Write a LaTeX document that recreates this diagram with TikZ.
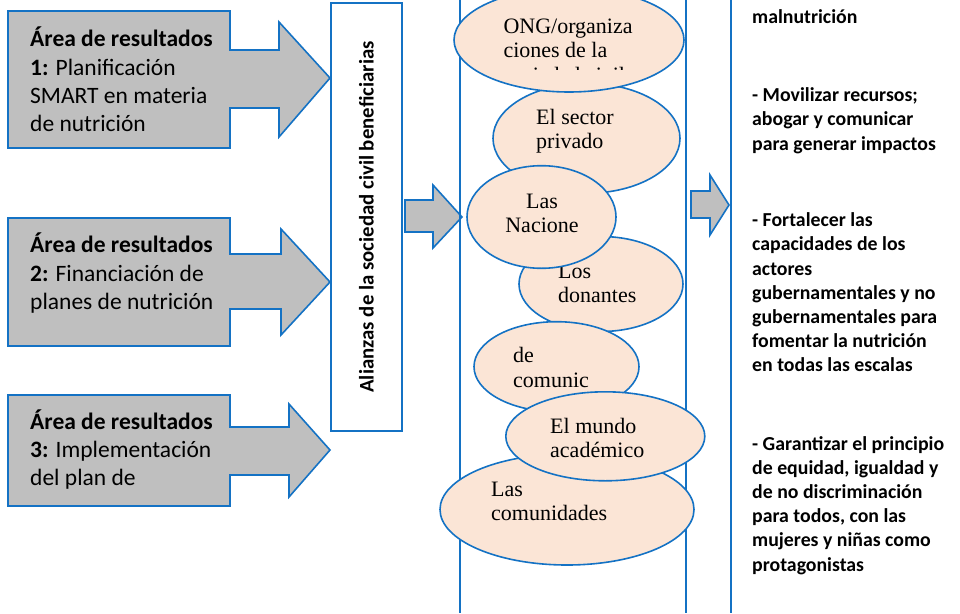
\documentclass[tikz,border=0pt]{standalone}
\usepackage{fontspec}
\setmainfont{Carlito}
\newfontfamily\bubblefont{Liberation Serif}
\usetikzlibrary{shapes.geometric}

\definecolor{edgeblue}{HTML}{1472C4}
\definecolor{arrowgray}{HTML}{BFBFBF}
\definecolor{peach}{HTML}{FBE5D6}

\tikzset{
  blockarrow/.style={draw=edgeblue, line width=1.6pt, fill=arrowgray, line join=miter},
  frameline/.style={draw=edgeblue, line width=1.5pt},
  bubble/.style={ellipse, draw=edgeblue, line width=1.6pt, fill=peach, inner sep=0pt},
  bubbletext/.style={anchor=base west, text width=160pt, align=flush left, inner sep=0pt,
    font=\bubblefont\fontsize{22}{24.5}\selectfont},
  areatext/.style={anchor=base west, text width=205pt, align=flush left, inner sep=0pt,
    font=\fontsize{23.5}{28.3}\selectfont},
  goaltext/.style={anchor=base west, text width=205pt, align=flush left, inner sep=0pt,
    font=\bfseries\fontsize{19.8}{24.2}\selectfont}
}

\begin{document}
\begin{tikzpicture}[x=1pt, y=-1pt]
  \clip (0,0) rectangle (960,613);

  % result areas
  \draw[blockarrow] (8,11)--(230,11)--(230,50)--(279,50)--(279,22)--(330,78)
    --(279,137)--(279,108)--(230,108)--(230,148)--(8,148)--cycle;
  \draw[blockarrow] (8,218)--(230,218)--(230,254)--(281,254)--(281,229)--(330,282)
    --(281,335)--(281,309)--(230,309)--(230,346)--(8,346)--cycle;
  \draw[blockarrow] (8,395)--(230,395)--(230,427)--(289,427)--(289,404)--(330,450)
    --(289,497)--(289,475)--(230,475)--(230,506)--(8,506)--cycle;
  \node[areatext] (area1) at (30,46.7)
    {\textbf{Área de resultados}\\\textbf{1:} Planificación\\SMART en materia\\de nutrición};
  \node[areatext] (area2) at (30,252.7)
    {\textbf{Área de resultados}\\\textbf{2:} Financiación de\\planes de nutrición};
  \node[areatext] (area3) at (30,429.3)
    {\textbf{Área de resultados}\\\textbf{3:} Implementación\\del plan de};

  \node[draw=edgeblue, line width=1.5pt, rotate=90, minimum width=428pt, minimum height=71pt,
    font=\bfseries\fontsize{20.8}{24}\selectfont] (alianzas) at (366.5,217)
    {Alianzas de la sociedad civil beneficiarias};

  \draw[blockarrow] (405,200)--(433,200)--(433,185)--(462,217)--(433,248)--(433,232)
    --(405,232)--cycle;

  % actors column
  \draw[frameline] (460,0)--(460,613);
  \draw[frameline] (686,0)--(686,613);

  \node[bubble, minimum width=187pt, minimum height=110pt] (privado) at (586.5,138.3) {};
  \node[bubbletext] (privadotext) at (536,124) {El sector\\privado};
  \node[bubble, minimum width=230pt, minimum height=104pt] (ong) at (569,40) {};
  \begin{scope}
    \clip (454,0) rectangle (684,69);
    \node[bubbletext] (ongtext) at (503.3,33.3) {ONG/organiza\\ciones de la\\sociedad civil};
  \end{scope}
  \node[bubble, minimum width=164pt, minimum height=95pt] (donantes) at (601,284) {};
  \node[bubbletext] (donantestext) at (558,278.3) {Los\\donantes};
  \node[bubble, minimum width=149pt, minimum height=102.6pt] (naciones) at (541.5,217) {};
  \node[bubbletext, anchor=base, align=flush center] (nacionestext) at (542,208.3) {Las\\Nacione};
  \node[bubble, minimum width=165pt, minimum height=90pt] (medios) at (556.5,366.7) {};
  \node[bubbletext] (mediostext) at (513,362.7) {de\\comunic};
  \node[bubble, minimum width=254pt, minimum height=111pt] (comunidades) at (567,509.5) {};
  \node[bubbletext] (comunidadestext) at (491,496) {Las\\comunidades};
  \node[bubble, minimum width=199pt, minimum height=89pt] (academia) at (605.3,436.3) {};
  \node[bubbletext] (academiatext) at (550,433.3) {El mundo\\académico};

  \draw[blockarrow] (691,191)--(710,191)--(710,175)--(729,205)--(710,235)--(710,218)
    --(691,218)--cycle;

  % goals
  \draw[frameline] (731,0)--(731,613);
  \node[goaltext] (goal0) at (752,23.3) {malnutrición};
  \node[goaltext] (goal1) at (752,101.7)
    {- Movilizar recursos;\\abogar y comunicar\\para generar impactos};
  \node[goaltext] (goal2) at (752,226.7)
    {- Fortalecer las\\capacidades de los\\actores\\gubernamentales y no\\gubernamentales para\\fomentar la nutrición\\en todas las escalas};
  \node[goaltext] (goal3) at (752,450)
    {- Garantizar el principio\\de equidad, igualdad y\\de no discriminación\\para todos, con las\\mujeres y niñas como\\protagonistas};
\end{tikzpicture}
\end{document}
